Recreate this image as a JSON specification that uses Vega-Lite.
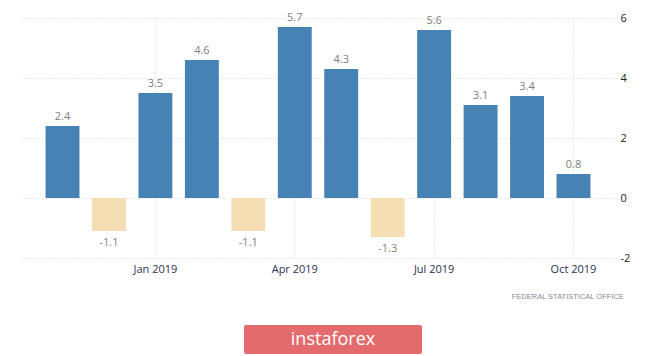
{
  "$schema": "https://vega.github.io/schema/vega-lite/v6.json",
  "background": "white",
  "padding": {"left": 20, "top": 11, "right": 0, "bottom": 0},
  "config": {"view": {"stroke": null}, "font": "Open Sans"},
  "spacing": 24,
  "vconcat": [
    {
      "width": 596,
      "height": 240,
      "data": {"values": [
        {"month": "Nov 2018", "value": 2.4},
        {"month": "Dec 2018", "value": -1.1},
        {"month": "Jan 2019", "value": 3.5},
        {"month": "Feb 2019", "value": 4.6},
        {"month": "Mar 2019", "value": -1.1},
        {"month": "Apr 2019", "value": 5.7},
        {"month": "May 2019", "value": 4.3},
        {"month": "Jun 2019", "value": -1.3},
        {"month": "Jul 2019", "value": 5.6},
        {"month": "Aug 2019", "value": 3.1},
        {"month": "Sep 2019", "value": 3.4},
        {"month": "Oct 2019", "value": 0.8}
      ]},
      "title": {"text": "FEDERAL STATISTICAL OFFICE", "orient": "bottom", "anchor": "end", "fontSize": 7.5, "fontWeight": "normal", "color": "#8a8a8a", "offset": 19, "dx": -6, "font": "Liberation Sans"},
      "encoding": {
        "x": {"field": "month", "type": "ordinal", "sort": null,
          "scale": {"paddingInner": 0.27, "paddingOuter": 0.55},
          "axis": {"title": null, "values": ["Jan 2019", "Apr 2019", "Jul 2019", "Oct 2019"], "bandPosition": 0.5, "grid": true, "gridColor": "#d6d6d6", "gridDash": [1, 2], "domain": false, "ticks": false, "labelAngle": 0, "labelPadding": 5, "labelFontSize": 11, "labelColor": "#2e3050"}},
        "y": {"field": "value", "type": "quantitative",
          "scale": {"domain": [-2, 6], "nice": false},
          "axis": {"orient": "right", "title": null, "values": [-2, 0, 2, 4, 6], "labelExpr": "datum.value + ''", "domain": false, "ticks": false, "labelPadding": 4, "grid": true, "gridColor": "#d6d6d6", "gridDash": [1, 2], "labelFontSize": 11, "labelColor": "#222222"}}
      },
      "layer": [
        {
          "mark": {"type": "bar"},
          "encoding": {
            "color": {"condition": {"test": "datum.value < 0", "value": "#F5DEB3"}, "value": "#4682B4"}
          }
        },
        {
          "transform": [{"filter": "datum.value >= 0"}],
          "mark": {"type": "text", "baseline": "bottom", "dy": -4, "fontSize": 11, "color": "#808080"},
          "encoding": {"text": {"field": "value", "type": "nominal"}}
        },
        {
          "transform": [{"filter": "datum.value < 0"}],
          "mark": {"type": "text", "baseline": "top", "dy": 6, "fontSize": 11, "color": "#808080"},
          "encoding": {"text": {"field": "value", "type": "nominal"}}
        }
      ]
    },
    {
      "spacing": 20,
      "hconcat": [
        {
          "width": 204,
          "height": 29,
          "data": {"values": []},
          "mark": {"type": "text"},
          "encoding": {}
        },
        {
          "width": 178,
          "height": 29,
          "view": {"fill": "#E46B6D", "stroke": null, "cornerRadius": 2},
          "data": {"values": [{"brand": "instaforex"}]},
          "mark": {"type": "text", "color": "white", "fontSize": 18, "font": "Open Sans", "baseline": "middle", "align": "center"},
          "encoding": {"text": {"field": "brand", "type": "nominal"}}
        }
      ]
    }
  ]
}
